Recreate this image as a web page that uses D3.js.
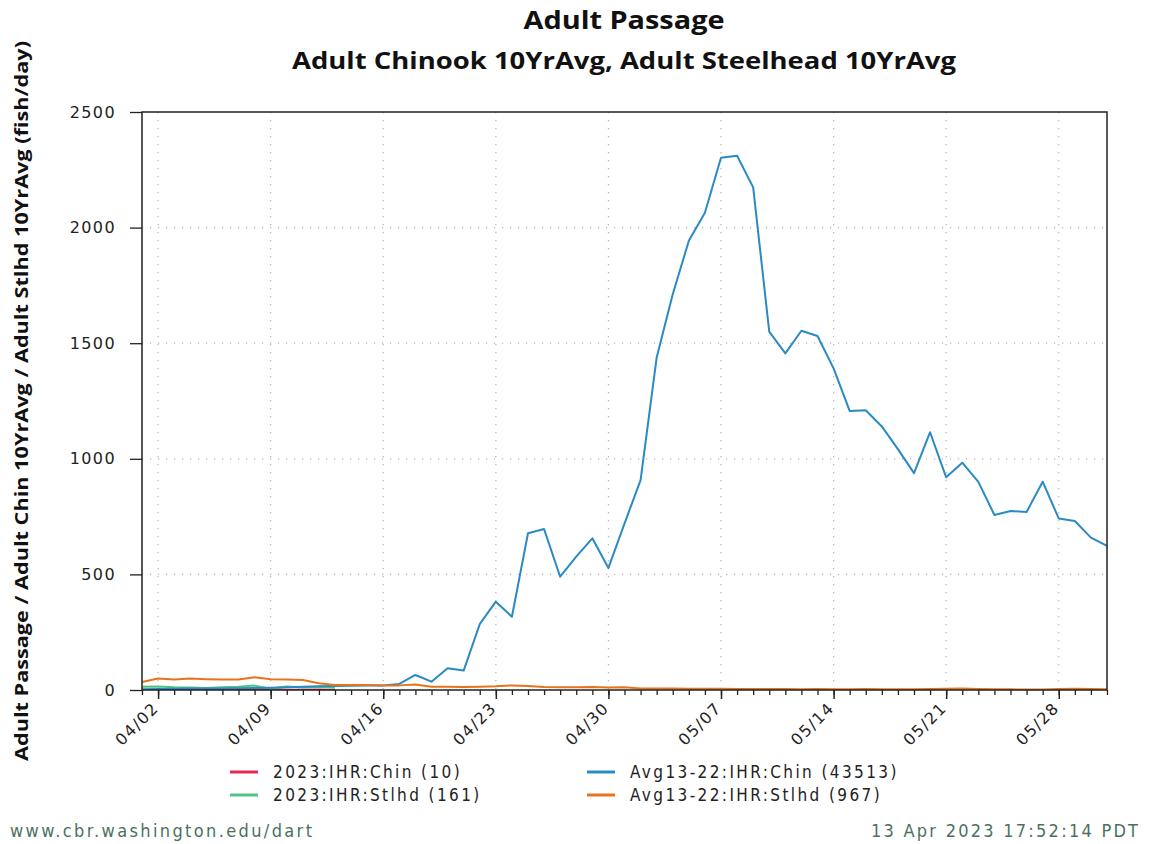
<!DOCTYPE html>
<html lang="en">
  <head>
    <meta charset="utf-8">
    <title>Adult Passage</title>
    <script src="https://d3js.org/d3.v7.min.js"></script>
    <style type="text/css">
      body {
        margin: 0;
        background: white;
      }
      .tick text {
        font-family: "DejaVu Sans", sans-serif;
        font-size: 16px;
        letter-spacing: 1.4px;
        fill: #222;
      }
      .title {
        font-family: "Open Sans", "Noto Sans", sans-serif;
        font-weight: bold;
        fill: #111;
      }
      .legend text {
        font-family: "DejaVu Sans", sans-serif;
        font-stretch: condensed;
        font-size: 17px;
        letter-spacing: 2.4px;
        fill: #222;
      }
      .foot {
        font-family: "DejaVu Sans", sans-serif;
        font-stretch: condensed;
        font-size: 18px;
        fill: #4a7160;
      }
    </style>
  </head>
  <body>
    <script>
      var width = 1152;
      var height = 844;

      // plot box
      var plotLeft = 142, plotRight = 1107, plotTop = 112, plotBottom = 690;

      // daily values 04/01 .. 05/31
      var chinAvg = [3, 4, 5, 6, 6, 7, 8, 9, 10, 12, 14, 16, 17, 18, 19, 20, 26,
        65, 36, 94, 84, 285, 382, 317, 678, 696, 490, 577, 656, 528, 720, 908,
        1438, 1712, 1943, 2064, 2302, 2311, 2174, 1550, 1456, 1554, 1531, 1391,
        1207, 1210, 1140, 1042, 938, 1115, 920, 983, 900, 757, 774, 770, 901,
        742, 731, 659, 623];
      var stlhdAvg = [35, 50, 45, 50, 47, 45, 45, 55, 47, 45, 43, 29, 22, 22, 22,
        19, 20, 24, 14, 14, 13, 14, 16, 20, 17, 13, 12, 12, 13, 11, 12,
        7, 6, 7, 5, 5, 5, 4, 4, 4, 4, 3, 4, 3, 3, 4, 3, 3, 3, 4, 5,
        6, 4, 3, 3, 2, 2, 4, 5, 4, 3];
      // 2023 values 04/01 .. 04/13
      var chin2023 = [0, 0, 0, 0, 0, 0, 1, 2, 3, 1, 1, 2, 0];
      var stlhd2023 = [14, 15, 12, 11, 9, 12, 14, 19, 5, 15, 11, 14, 10];

      var seriesNames = ["2023:IHR:Chin (10)", "2023:IHR:Stlhd (161)",
        "Avg13-22:IHR:Chin (43513)", "Avg13-22:IHR:Stlhd (967)"];
      var seriesColors = ["#e8294e", "#4cc486", "#2a8ac4", "#e8731c"];

      var yTicks = [0, 500, 1000, 1500, 2000, 2500];
      var xTickLabels = ["04/02", "04/09", "04/16", "04/23", "04/30", "05/07",
        "05/14", "05/21", "05/28"];

      var parseDay = function(s) {
        var p = s.split("/");
        return new Date(2023, +p[0] - 1, +p[1]);
      };
      var startDay = new Date(2023, 3, 1);
      var endDay = new Date(2023, 4, 31);
      var dayOf = function(i) { return d3.timeDay.offset(startDay, i); };

      var x = d3.scaleTime().domain([startDay, endDay]).range([plotLeft, plotRight]);
      var y = d3.scaleLinear().domain([0, 2500]).range([plotBottom, plotTop]);

      var svg = d3.select("body")
        .append("svg")
        .attr("width", width)
        .attr("height", height);

      svg.append("rect").attr("width", width).attr("height", height).attr("fill", "white");

      // titles
      svg.append("text").attr("class", "title")
        .attr("x", 624).attr("y", 29)
        .attr("text-anchor", "middle")
        .attr("font-size", 25)
        .attr("textLength", 201).attr("lengthAdjust", "spacingAndGlyphs")
        .text("Adult Passage");
      svg.append("text").attr("class", "title")
        .attr("x", 624).attr("y", 69)
        .attr("text-anchor", "middle")
        .attr("font-size", 23)
        .attr("textLength", 664).attr("lengthAdjust", "spacingAndGlyphs")
        .text("Adult Chinook 10YrAvg, Adult Steelhead 10YrAvg");

      svg.append("text").attr("class", "title")
        .attr("transform", "translate(28," + ((plotTop + plotBottom) / 2) + ") rotate(-90)")
        .attr("text-anchor", "middle")
        .attr("font-size", 18)
        .attr("textLength", 720).attr("lengthAdjust", "spacingAndGlyphs")
        .text("Adult Passage / Adult Chin 10YrAvg / Adult Stlhd 10YrAvg (fish/day)");

      // grid
      var grid = svg.append("g")
        .attr("stroke", "#b4b4b4")
        .attr("stroke-width", 1.2)
        .attr("stroke-dasharray", "1.2,6.8");

      grid.selectAll(".hg")
        .data(yTicks.slice(1, -1))
        .enter()
        .append("line")
        .attr("x1", plotLeft).attr("x2", plotRight)
        .attr("y1", function(d) { return y(d); })
        .attr("y2", function(d) { return y(d); });

      grid.selectAll(".vg")
        .data(xTickLabels)
        .enter()
        .append("line")
        .attr("x1", function(d) { return x(parseDay(d)); })
        .attr("x2", function(d) { return x(parseDay(d)); })
        .attr("y1", plotTop).attr("y2", plotBottom);

      // lines
      svg.append("clipPath").attr("id", "plotclip")
        .append("rect")
        .attr("x", plotLeft).attr("y", plotTop)
        .attr("width", plotRight - plotLeft).attr("height", plotBottom - plotTop);

      var line = d3.line()
        .x(function(d, i) { return x(dayOf(i)); })
        .y(function(d) { return y(d); });

      var series = [chin2023, stlhd2023, chinAvg, stlhdAvg];

      svg.append("g")
        .attr("clip-path", "url(#plotclip)")
        .selectAll("path")
        .data(series)
        .enter()
        .append("path")
        .attr("fill", "none")
        .attr("stroke", function(d, i) { return seriesColors[i]; })
        .attr("stroke-width", 2)
        .attr("stroke-linejoin", "round")
        .attr("d", line);

      // axes
      var yAxis = d3.axisLeft(y)
        .tickValues(yTicks)
        .tickFormat(d3.format("d"))
        .tickSize(12)
        .tickPadding(14);
      svg.append("g")
        .attr("transform", "translate(" + plotLeft + ",0)")
        .call(yAxis)
        .call(function(g) { g.select(".domain").remove(); })
        .call(function(g) { g.selectAll("line").attr("stroke", "#222").attr("stroke-width", 1.3); });

      var minorAxis = d3.axisBottom(x)
        .ticks(d3.timeDay.every(1))
        .tickSize(5)
        .tickFormat("");
      svg.append("g")
        .attr("transform", "translate(0," + plotBottom + ")")
        .call(minorAxis)
        .call(function(g) { g.select(".domain").remove(); })
        .call(function(g) { g.selectAll("line").attr("stroke", "#222").attr("stroke-width", 1.3); });

      var majorAxis = d3.axisBottom(x)
        .tickValues(xTickLabels.map(parseDay))
        .tickSize(9)
        .tickFormat(d3.timeFormat("%m/%d"));
      svg.append("g")
        .attr("transform", "translate(0," + plotBottom + ")")
        .call(majorAxis)
        .call(function(g) { g.select(".domain").remove(); })
        .call(function(g) { g.selectAll("line").attr("stroke", "#222").attr("stroke-width", 1.5); })
        .selectAll("text")
        .attr("text-anchor", "end")
        .attr("dy", null)
        .attr("y", 0)
        .attr("transform", "translate(1,19) rotate(-45)");

      // frame
      svg.append("rect")
        .attr("x", plotLeft).attr("y", plotTop)
        .attr("width", plotRight - plotLeft).attr("height", plotBottom - plotTop)
        .attr("fill", "none")
        .attr("stroke", "#222")
        .attr("stroke-width", 1.5);

      // legend
      var legPos = [[230, 772], [230, 795], [587, 772], [587, 795]];
      var legend = svg.append("g").attr("class", "legend");
      var items = legend.selectAll("g")
        .data(seriesNames)
        .enter()
        .append("g")
        .attr("transform", function(d, i) { return "translate(" + legPos[i][0] + "," + legPos[i][1] + ")"; });
      items.append("line")
        .attr("x1", 0).attr("x2", 28)
        .attr("stroke", function(d, i) { return seriesColors[i]; })
        .attr("stroke-width", 3);
      items.append("text")
        .attr("x", 43).attr("y", 6)
        .text(function(d) { return d; });

      // footer
      svg.append("text").attr("class", "foot")
        .attr("x", 10).attr("y", 837)
        .attr("textLength", 302).attr("lengthAdjust", "spacing")
        .text("www.cbr.washington.edu/dart");
      svg.append("text").attr("class", "foot")
        .attr("x", 1138).attr("y", 837)
        .attr("text-anchor", "end")
        .attr("textLength", 267).attr("lengthAdjust", "spacing")
        .text("13 Apr 2023 17:52:14 PDT");
    </script>
  </body>
</html>
